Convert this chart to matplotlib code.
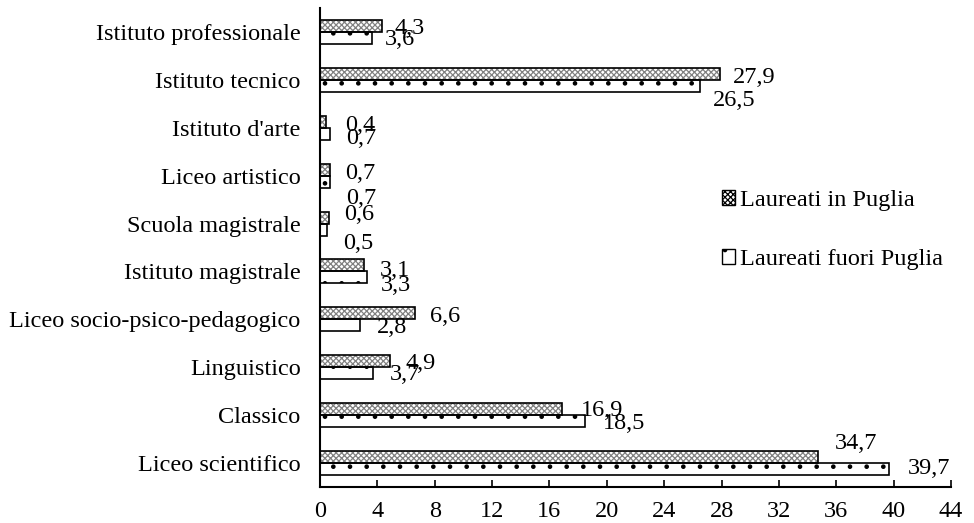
import numpy as np
import matplotlib.pyplot as plt
from matplotlib.patches import Patch

plt.rcParams["font.family"] = ["Liberation Serif", "DejaVu Serif"]
plt.rcParams["hatch.linewidth"] = 0.9

categories = ["Liceo scientifico", "Classico", "Linguistico",
              "Liceo socio-psico-pedagogico", "Istituto magistrale",
              "Scuola magistrale", "Liceo artistico", "Istituto d'arte",
              "Istituto tecnico", "Istituto professionale"]
in_puglia = [34.7, 16.9, 4.9, 6.6, 3.1, 0.6, 0.7, 0.4, 27.9, 4.3]
fuori_puglia = [39.7, 18.5, 3.7, 2.8, 3.3, 0.5, 0.7, 0.7, 26.5, 3.6]
series_names = ["Laureati in Puglia", "Laureati fuori Puglia"]
xticks = np.arange(0, 45, 4)

# label nudges (pixels, right / down) copied from where Excel put them
off_in = [(17, -14), (18, 1), (15, 2), (15, 3), (15, 5),
          (16, -3), (15, 4), (19, 3.5), (13, 3.4), (13, 3)]
off_out = [(18, -1), (18, 2), (17, 1), (17, 2), (13, 8),
           (16, 14), (16, 17), (16, 4.5), (13, 15), (13, 2)]

FS = 17.5


def fmt(v):
    return f"{v:.1f}".replace(".", ",")


fig = plt.figure(figsize=(9.74, 5.23), dpi=100)
ax = fig.add_axes([320 / 974, 36 / 523, 631 / 974, 479 / 523])

y = np.arange(len(categories))
h = 0.25

# fill patterns first, then black outlines on top
ax.barh(y + h / 2, in_puglia, height=h, color="white", hatch="xxxxxx",
        edgecolor="#808080", linewidth=0)
ax.barh(y - h / 2, fuori_puglia, height=h, color="white", hatch=".",
        edgecolor="black", linewidth=0)
ax.barh(y + h / 2, in_puglia, height=h, color="none", edgecolor="black",
        linewidth=1.2)
ax.barh(y - h / 2, fuori_puglia, height=h, color="none", edgecolor="black",
        linewidth=1.2)

for i in range(len(categories)):
    dx, dy = off_in[i]
    ax.annotate(fmt(in_puglia[i]), (in_puglia[i], y[i] + h / 2),
                xytext=(dx, -dy), textcoords="offset pixels",
                ha="left", va="center", fontsize=FS)
    dx, dy = off_out[i]
    ax.annotate(fmt(fuori_puglia[i]), (fuori_puglia[i], y[i] - h / 2),
                xytext=(dx, -dy), textcoords="offset pixels",
                ha="left", va="center", fontsize=FS)

ax.set_xlim(0, 44)
ax.set_ylim(-0.5, len(categories) - 0.5)
ax.set_xticks(xticks)
ax.set_xticklabels([str(t) for t in xticks], fontsize=FS)
ax.set_yticks(y)
ax.set_yticklabels(categories, fontsize=FS)
ax.tick_params(axis="x", direction="in", length=5, width=1.2, pad=10)
ax.tick_params(axis="y", length=0, pad=14)
for s in ["top", "right"]:
    ax.spines[s].set_visible(False)
for s in ["bottom", "left"]:
    ax.spines[s].set_linewidth(1.5)

handles = [Patch(facecolor="white", edgecolor="black", hatch="xxxxxx"),
           Patch(facecolor="white", edgecolor="black", hatch=".")]
fig.legend(handles, series_names, loc="center left",
           bbox_to_anchor=(700 / 974, 1 - 230 / 523), frameon=False,
           fontsize=FS, handlelength=0.55, handleheight=0.55,
           handletextpad=0.2, labelspacing=1.55)

fig.savefig("out.png", dpi=100)
